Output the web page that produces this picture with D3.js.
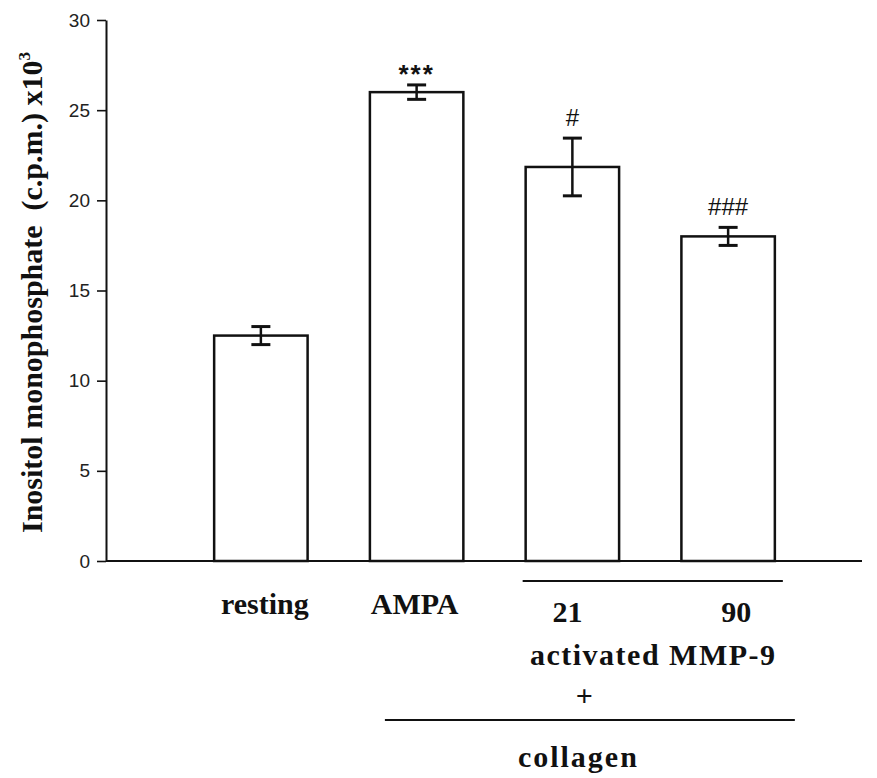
<!DOCTYPE html>
<html>
<head>
<meta charset="utf-8">
<script src="https://cdn.jsdelivr.net/npm/d3@7"></script>
<style>
  body { margin: 0; background: #fff; }
  svg { display: block; }
  .serif { font-family: "Liberation Serif", "Times New Roman", serif; font-weight: bold; fill: #111; }
</style>
</head>
<body>
<svg id="chart" width="877" height="778"></svg>
<script>
// Data
const categories = ["resting", "AMPA", "21", "90"];
const means = [12.5, 26.0, 21.85, 18.0];
const errors = [0.5, 0.4, 1.6, 0.5];
const marks = ["", "***", "#", "###"];
const yTicks = [0, 5, 10, 15, 20, 25, 30];

const width = 877;
const height = 778;
const axisX = 106;
const axisRight = 862;

const svg = d3.select("#chart");

// Scales
const x = d3
  .scaleBand()
  .domain(categories)
  .range([183, 806])
  .paddingInner(0.4)
  .paddingOuter(0.2);

const y = d3.scaleLinear().domain([0, 30]).range([561, 20]);

// Y axis
const yAxis = d3
  .axisLeft(y)
  .tickValues(yTicks)
  .tickSize(9)
  .tickSizeOuter(0)
  .tickPadding(7);

const yg = svg
  .append("g")
  .attr("transform", `translate(${axisX},0)`)
  .call(yAxis);

yg.select(".domain").attr("stroke", "#111").attr("stroke-width", 2);
yg.selectAll(".tick line").attr("stroke", "#111").attr("stroke-width", 1.6);
yg.selectAll(".tick text")
  .attr("font-family", "'Liberation Sans', Arial, sans-serif")
  .attr("font-size", 19)
  .attr("fill", "#222");

// X baseline
svg
  .append("line")
  .attr("x1", axisX)
  .attr("x2", axisRight)
  .attr("y1", y(0))
  .attr("y2", y(0))
  .attr("stroke", "#111")
  .attr("stroke-width", 2);

// Bars
const rows = categories.map((c, i) => ({ c, m: means[i], e: errors[i], mark: marks[i] }));

svg
  .selectAll(".bar")
  .data(rows)
  .enter()
  .append("rect")
  .attr("class", "bar")
  .attr("x", d => x(d.c))
  .attr("y", d => y(d.m))
  .attr("width", x.bandwidth())
  .attr("height", d => y(0) - y(d.m))
  .attr("fill", "#fff")
  .attr("stroke", "#111")
  .attr("stroke-width", 2.5);

// Error bars
const cap = 9.5;
const eb = svg.selectAll(".err").data(rows).enter().append("g").attr("class", "err");
const cx = d => x(d.c) + x.bandwidth() / 2;

eb.append("line")
  .attr("x1", cx)
  .attr("x2", cx)
  .attr("y1", d => y(d.m + d.e))
  .attr("y2", d => y(d.m - d.e))
  .attr("stroke", "#111")
  .attr("stroke-width", 2.5);

[1, -1].forEach(s => {
  eb.append("line")
    .attr("x1", d => cx(d) - cap)
    .attr("x2", d => cx(d) + cap)
    .attr("y1", d => y(d.m + s * d.e))
    .attr("y2", d => y(d.m + s * d.e))
    .attr("stroke", "#111")
    .attr("stroke-width", 3);
});

// Significance marks
svg
  .selectAll(".mark")
  .data(rows.filter(d => d.mark))
  .enter()
  .append("text")
  .attr("class", "mark")
  .attr("x", cx)
  .attr("y", d => y(d.m + d.e) - (d.mark.startsWith("*") ? 2 : 12))
  .attr("text-anchor", "middle")
  .attr("font-family", "'Liberation Sans', Arial, sans-serif")
  .attr("font-size", d => (d.mark.startsWith("*") ? 26 : 24))
  .attr("font-weight", d => (d.mark.startsWith("*") ? "bold" : "normal"))
  .attr("letter-spacing", d => (d.mark.startsWith("*") ? 2 : 0))
  .attr("fill", "#111")
  .text(d => d.mark);

// Y axis title
svg
  .append("text")
  .attr("class", "serif")
  .attr("transform", `translate(42, ${(y(0) + y(30)) / 2 + 2}) rotate(-90)`)
  .attr("text-anchor", "middle")
  .attr("font-size", 30)
  .style("white-space", "pre")
  .text("Inositol monophosphate  (c.p.m.) x10")
  .append("tspan")
  .attr("dy", -12)
  .attr("font-size", 17)
  .text("3");

// Category labels
const labelY = [614, 614, 622, 622];
const labelDx = [4, -2, -5, 8];
svg
  .selectAll(".cat")
  .data(rows)
  .enter()
  .append("text")
  .attr("class", "serif cat")
  .attr("x", (d, i) => cx(d) + labelDx[i])
  .attr("y", (d, i) => labelY[i])
  .attr("text-anchor", "middle")
  .attr("font-size", 30)
  .text(d => d.c);

// Grouping brackets and captions
const mid3 = (cx(rows[2]) + cx(rows[3])) / 2;
const mid2 = (cx(rows[1]) + cx(rows[3])) / 2;

svg
  .append("line")
  .attr("x1", x("21") - 3)
  .attr("x2", x("90") + x.bandwidth() + 8)
  .attr("y1", 581)
  .attr("y2", 581)
  .attr("stroke", "#111")
  .attr("stroke-width", 2);

svg
  .append("text")
  .attr("class", "serif")
  .attr("x", mid3 + 3)
  .attr("y", 665)
  .attr("text-anchor", "middle")
  .attr("font-size", 30)
  .attr("letter-spacing", 1.5)
  .text("activated MMP-9");

svg
  .append("text")
  .attr("class", "serif")
  .attr("x", mid2 + 12)
  .attr("y", 706)
  .attr("text-anchor", "middle")
  .attr("font-size", 30)
  .text("+");

svg
  .append("line")
  .attr("x1", x("AMPA") + 15)
  .attr("x2", x("90") + x.bandwidth() + 20)
  .attr("y1", 720)
  .attr("y2", 720)
  .attr("stroke", "#111")
  .attr("stroke-width", 2);

svg
  .append("text")
  .attr("class", "serif")
  .attr("x", mid2 + 6)
  .attr("y", 767)
  .attr("text-anchor", "middle")
  .attr("font-size", 30)
  .attr("letter-spacing", 2)
  .text("collagen");
</script>
</body>
</html>
